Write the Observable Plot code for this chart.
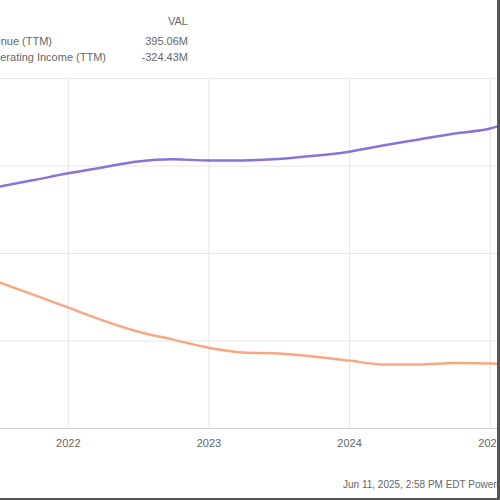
<!DOCTYPE html>
<html>
<head>
<meta charset="utf-8">
<script src="https://cdn.jsdelivr.net/npm/d3@7"></script>
<script src="https://cdn.jsdelivr.net/npm/@observablehq/plot@0.6"></script>
<style>
  html, body { margin: 0; padding: 0; background: #fff; }
  #wrap { position: relative; width: 500px; height: 500px; overflow: hidden; background: #fff;
          font-family: "Liberation Sans", Arial, sans-serif; color: #666; }
  #frame { position: absolute; right: 0; bottom: 0; width: 3px; height: 500px; background: #555; }
  #frameB { position: absolute; left: 0; bottom: 0; width: 500px; height: 2px; background: #555; }
  .lg { position: absolute; font-size: 11px; white-space: nowrap; color: #666; }
  #chart { position: absolute; left: 0; top: 0; }
  #caption { position: absolute; left: 343px; top: 479px; font-size: 10px; white-space: nowrap; color: #666; }
</style>
</head>
<body>
<div id="wrap">
  <div id="chart"></div>
  <div class="lg" id="hdr" style="right:312px; top:15px;"></div>
  <div class="lg" id="n0" style="right:448px; top:35px;"></div>
  <div class="lg" id="v0" style="right:312px; top:35px;"></div>
  <div class="lg" id="n1" style="right:394px; top:51px;"></div>
  <div class="lg" id="v1" style="right:312px; top:51px;"></div>
  <div id="caption"></div>
  <div id="frame"></div>
  <div id="frameB"></div>
</div>
<script>
const dates = ["2021-06-30","2021-09-30","2021-12-31","2022-03-31","2022-06-30","2022-09-30","2022-12-31",
  "2023-03-31","2023-06-30","2023-09-30","2023-12-31","2024-03-31","2024-06-30","2024-09-30","2024-12-31","2025-03-31"];
const revenue = [190, 209, 229, 246, 263, 269, 266, 266, 270, 279, 291, 309, 326, 343, 357, 395];
const operatingIncome = [-80, -117, -154, -191, -223, -246, -269, -283, -286, -294, -306, -317, -317, -313, -314, -324];
const seriesNames = ["Revenue (TTM)", "Operating Income (TTM)"];
const seriesColors = ["#8a72d8", "#f7a882"];
const legendHeader = "VAL";
const legendValues = ["395.06M", "-324.43M"];
const yTicks = [-500, -250, 0, 250, 500];
const xTicks = ["2022-01-01", "2023-01-01", "2024-01-01", "2025-01-01"];
const xDomain = ["2021-07-09", "2025-01-19"];
const captionText = "Jun 11, 2025, 2:58 PM EDT  Powered by YCharts";

const parse = d3.utcParse("%Y-%m-%d");
const rows = [];
dates.forEach((d, i) => {
  rows.push({date: parse(d), value: revenue[i], series: seriesNames[0]});
  rows.push({date: parse(d), value: operatingIncome[i], series: seriesNames[1]});
});

const plot = Plot.plot({
  width: 500,
  height: 500,
  marginLeft: 0,
  marginRight: 3,
  marginTop: 78,
  marginBottom: 72,
  style: {fontFamily: "Liberation Sans, Arial, sans-serif", fontSize: "11px", color: "#666", background: "#fff"},
  x: {type: "utc", domain: xDomain.map(parse), label: null},
  y: {domain: [-500, 500], axis: null},
  color: {domain: seriesNames, range: seriesColors},
  marks: [
    Plot.gridX(xTicks.map(parse), {stroke: "#e6e6e6", strokeOpacity: 1}),
    Plot.gridY(yTicks, {stroke: "#e6e6e6", strokeOpacity: 1}),
    Plot.ruleY([-500], {stroke: "#cccccc"}),
    Plot.axisX({ticks: xTicks.map(parse), tickFormat: d3.utcFormat("%Y"), tickSize: 0, tickPadding: 11, fill: "#666"}),
    Plot.line(rows, {x: "date", y: "value", z: "series", stroke: "series", strokeWidth: 2.5, curve: "monotone-x", clip: true})
  ]
});
document.getElementById("chart").appendChild(plot);
document.getElementById("hdr").textContent = legendHeader;
document.getElementById("n0").textContent = seriesNames[0];
document.getElementById("n1").textContent = seriesNames[1];
document.getElementById("v0").textContent = legendValues[0];
document.getElementById("v1").textContent = legendValues[1];
document.getElementById("caption").textContent = captionText;
</script>
</body>
</html>
